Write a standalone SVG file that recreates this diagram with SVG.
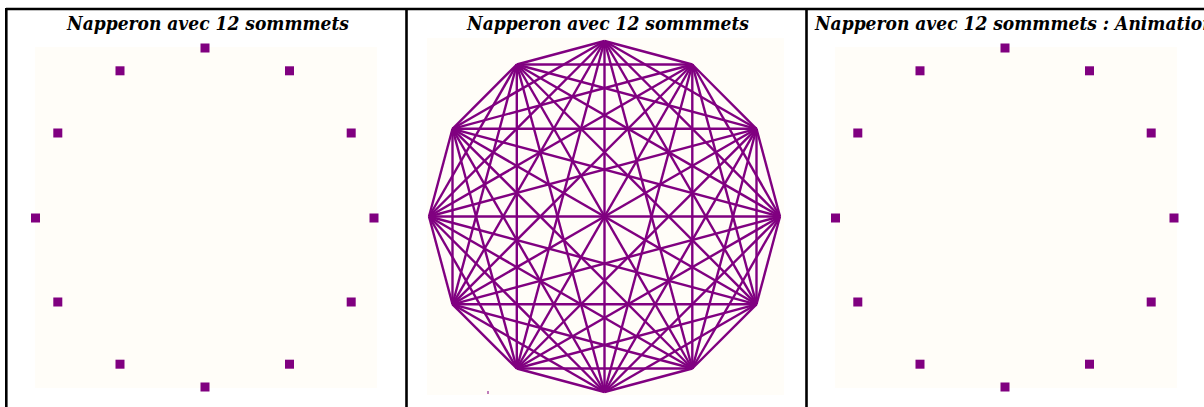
<svg xmlns="http://www.w3.org/2000/svg" width="1204" height="407" viewBox="0 0 1204 407">
<style>
.bg{fill:#fffdf8}
.t{font-family:"DejaVu Serif Condensed","DejaVu Serif",serif;font-stretch:condensed;font-weight:bold;font-style:italic;font-size:19px;fill:#000}
.v{fill:#800080}
.e{stroke:#800080;stroke-width:2.4;fill:none}
.b{stroke:#000;stroke-width:2.6;fill:none}
</style>
<rect width="1204" height="407" fill="#fff"/>
<g id="frame">
<line class="b" x1="6" y1="9" x2="1204" y2="9"/>
<line class="b" x1="6.3" y1="8" x2="6.3" y2="407"/>
<line class="b" x1="406.5" y1="8" x2="406.5" y2="407"/>
<line class="b" x1="806.5" y1="8" x2="806.5" y2="407"/>
</g>
<g id="panel1">
<rect class="bg" x="35" y="47" width="342" height="341"/>
<text class="t" x="208" y="30" text-anchor="middle">Napperon avec 12 sommmets</text>
<g id="p1-nodes">
<rect class="v" x="200.5" y="43.5" width="9" height="9"/>
<rect class="v" x="285" y="66.3" width="9" height="9"/>
<rect class="v" x="346.7" y="128.5" width="9" height="9"/>
<rect class="v" x="369.5" y="213.5" width="9" height="9"/>
<rect class="v" x="346.7" y="297.5" width="9" height="9"/>
<rect class="v" x="285" y="359.7" width="9" height="9"/>
<rect class="v" x="200.5" y="382.5" width="9" height="9"/>
<rect class="v" x="115.5" y="359.7" width="9" height="9"/>
<rect class="v" x="53.3" y="297.5" width="9" height="9"/>
<rect class="v" x="31" y="213.5" width="9" height="9"/>
<rect class="v" x="53.3" y="128.5" width="9" height="9"/>
<rect class="v" x="115.5" y="66.3" width="9" height="9"/>
</g>
</g>
<g id="panel2">
<rect class="bg" x="427" y="38" width="357" height="357"/>
<text class="t" x="608" y="30" text-anchor="middle">Napperon avec 12 sommmets</text>
<line x1="488" y1="391" x2="488" y2="394" stroke="#800080" stroke-width="1"/>
<g id="connectors">
<line class="e" x1="604.5" y1="41" x2="692.3" y2="64.5"/>
<line class="e" x1="604.5" y1="41" x2="756.5" y2="128.8"/>
<line class="e" x1="604.5" y1="41" x2="780" y2="216.5"/>
<line class="e" x1="604.5" y1="41" x2="756.5" y2="304.3"/>
<line class="e" x1="604.5" y1="41" x2="692.3" y2="368.5"/>
<line class="e" x1="604.5" y1="41" x2="604.5" y2="392"/>
<line class="e" x1="604.5" y1="41" x2="516.8" y2="368.5"/>
<line class="e" x1="604.5" y1="41" x2="452.5" y2="304.3"/>
<line class="e" x1="604.5" y1="41" x2="429" y2="216.5"/>
<line class="e" x1="604.5" y1="41" x2="452.5" y2="128.8"/>
<line class="e" x1="604.5" y1="41" x2="516.8" y2="64.5"/>
<line class="e" x1="692.3" y1="64.5" x2="756.5" y2="128.8"/>
<line class="e" x1="692.3" y1="64.5" x2="780" y2="216.5"/>
<line class="e" x1="692.3" y1="64.5" x2="756.5" y2="304.3"/>
<line class="e" x1="692.3" y1="64.5" x2="692.3" y2="368.5"/>
<line class="e" x1="692.3" y1="64.5" x2="604.5" y2="392"/>
<line class="e" x1="692.3" y1="64.5" x2="516.8" y2="368.5"/>
<line class="e" x1="692.3" y1="64.5" x2="452.5" y2="304.3"/>
<line class="e" x1="692.3" y1="64.5" x2="429" y2="216.5"/>
<line class="e" x1="692.3" y1="64.5" x2="452.5" y2="128.8"/>
<line class="e" x1="692.3" y1="64.5" x2="516.8" y2="64.5"/>
<line class="e" x1="756.5" y1="128.8" x2="780" y2="216.5"/>
<line class="e" x1="756.5" y1="128.8" x2="756.5" y2="304.3"/>
<line class="e" x1="756.5" y1="128.8" x2="692.3" y2="368.5"/>
<line class="e" x1="756.5" y1="128.8" x2="604.5" y2="392"/>
<line class="e" x1="756.5" y1="128.8" x2="516.8" y2="368.5"/>
<line class="e" x1="756.5" y1="128.8" x2="452.5" y2="304.3"/>
<line class="e" x1="756.5" y1="128.8" x2="429" y2="216.5"/>
<line class="e" x1="756.5" y1="128.8" x2="452.5" y2="128.8"/>
<line class="e" x1="756.5" y1="128.8" x2="516.8" y2="64.5"/>
<line class="e" x1="780" y1="216.5" x2="756.5" y2="304.3"/>
<line class="e" x1="780" y1="216.5" x2="692.3" y2="368.5"/>
<line class="e" x1="780" y1="216.5" x2="604.5" y2="392"/>
<line class="e" x1="780" y1="216.5" x2="516.8" y2="368.5"/>
<line class="e" x1="780" y1="216.5" x2="452.5" y2="304.3"/>
<line class="e" x1="780" y1="216.5" x2="429" y2="216.5"/>
<line class="e" x1="780" y1="216.5" x2="452.5" y2="128.8"/>
<line class="e" x1="780" y1="216.5" x2="516.8" y2="64.5"/>
<line class="e" x1="756.5" y1="304.3" x2="692.3" y2="368.5"/>
<line class="e" x1="756.5" y1="304.3" x2="604.5" y2="392"/>
<line class="e" x1="756.5" y1="304.3" x2="516.8" y2="368.5"/>
<line class="e" x1="756.5" y1="304.3" x2="452.5" y2="304.3"/>
<line class="e" x1="756.5" y1="304.3" x2="429" y2="216.5"/>
<line class="e" x1="756.5" y1="304.3" x2="452.5" y2="128.8"/>
<line class="e" x1="756.5" y1="304.3" x2="516.8" y2="64.5"/>
<line class="e" x1="692.3" y1="368.5" x2="604.5" y2="392"/>
<line class="e" x1="692.3" y1="368.5" x2="516.8" y2="368.5"/>
<line class="e" x1="692.3" y1="368.5" x2="452.5" y2="304.3"/>
<line class="e" x1="692.3" y1="368.5" x2="429" y2="216.5"/>
<line class="e" x1="692.3" y1="368.5" x2="452.5" y2="128.8"/>
<line class="e" x1="692.3" y1="368.5" x2="516.8" y2="64.5"/>
<line class="e" x1="604.5" y1="392" x2="516.8" y2="368.5"/>
<line class="e" x1="604.5" y1="392" x2="452.5" y2="304.3"/>
<line class="e" x1="604.5" y1="392" x2="429" y2="216.5"/>
<line class="e" x1="604.5" y1="392" x2="452.5" y2="128.8"/>
<line class="e" x1="604.5" y1="392" x2="516.8" y2="64.5"/>
<line class="e" x1="516.8" y1="368.5" x2="452.5" y2="304.3"/>
<line class="e" x1="516.8" y1="368.5" x2="429" y2="216.5"/>
<line class="e" x1="516.8" y1="368.5" x2="452.5" y2="128.8"/>
<line class="e" x1="516.8" y1="368.5" x2="516.8" y2="64.5"/>
<line class="e" x1="452.5" y1="304.3" x2="429" y2="216.5"/>
<line class="e" x1="452.5" y1="304.3" x2="452.5" y2="128.8"/>
<line class="e" x1="452.5" y1="304.3" x2="516.8" y2="64.5"/>
<line class="e" x1="429" y1="216.5" x2="452.5" y2="128.8"/>
<line class="e" x1="429" y1="216.5" x2="516.8" y2="64.5"/>
<line class="e" x1="452.5" y1="128.8" x2="516.8" y2="64.5"/>
</g>
</g>
<g id="panel3">
<rect class="bg" x="835" y="47" width="342" height="341"/>
<text class="t" x="815" y="30">Napperon avec 12 sommmets : Animation</text>
<g id="p3-nodes">
<rect class="v" x="1000.5" y="43.5" width="9" height="9"/>
<rect class="v" x="1085" y="66.3" width="9" height="9"/>
<rect class="v" x="1146.7" y="128.5" width="9" height="9"/>
<rect class="v" x="1169.5" y="213.5" width="9" height="9"/>
<rect class="v" x="1146.7" y="297.5" width="9" height="9"/>
<rect class="v" x="1085" y="359.7" width="9" height="9"/>
<rect class="v" x="1000.5" y="382.5" width="9" height="9"/>
<rect class="v" x="915.5" y="359.7" width="9" height="9"/>
<rect class="v" x="853.3" y="297.5" width="9" height="9"/>
<rect class="v" x="831" y="213.5" width="9" height="9"/>
<rect class="v" x="853.3" y="128.5" width="9" height="9"/>
<rect class="v" x="915.5" y="66.3" width="9" height="9"/>
</g>
</g>
</svg>
